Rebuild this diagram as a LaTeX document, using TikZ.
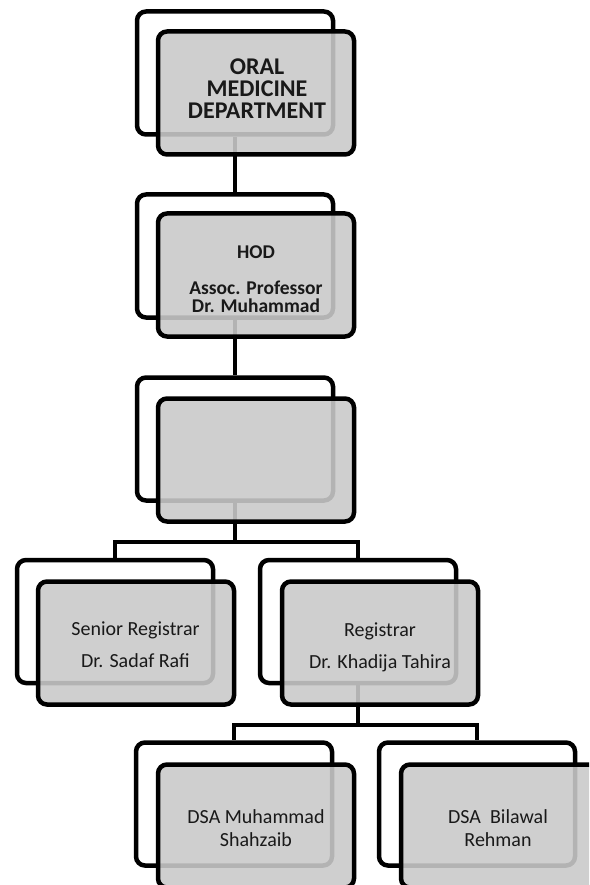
\documentclass[tikz,border=0pt]{standalone}
\usepackage{fontspec}
\setmainfont{Carlito}
\definecolor{BoxGray}{RGB}{202,202,202}

\begin{document}
\begin{tikzpicture}[x=1pt,y=-1pt]
	\tikzstyle{backbox}=[draw, line width=4.5pt, rounded corners=9pt, fill=white, minimum width=196pt, minimum height=123pt, inner sep=0pt]
	\tikzstyle{frontbox}=[backbox, fill=BoxGray, fill opacity=0.89]
	\tikzstyle{conn}=[line width=3.8pt]
	\tikzstyle{boxtext}=[align=center, inner sep=0pt, text=black!90]
	\clip (0,0) rectangle (589,885);
	\fill [white] (0,0) rectangle (589,885);
	% back boxes
	\node [backbox] (b1) at (235, 73) {};
	\node [backbox] (b2) at (235, 256) {};
	\node [backbox] (b3) at (235, 439) {};
	\node [backbox] (b4l) at (115, 621.5) {};
	\node [backbox] (b4r) at (358, 621.5) {};
	\node [backbox] (b5l) at (234, 804) {};
	\node [backbox] (b5r) at (477, 804) {};
	% connectors
	\coordinate (j3) at (235, 542);
	\coordinate (j4) at (358, 725);
	\draw [conn] (b1.south) -- (b2.north);
	\draw [conn] (b2.south) -- (b3.north);
	\draw [conn] (b3.south) -- (j3);
	\draw [conn] (j3) -| (b4l.north);
	\draw [conn] (j3) -| (b4r.north);
	\draw [conn] (b4r.south) -- (j4);
	\draw [conn] (j4) -| (b5l.north);
	\draw [conn] (j4) -| (b5r.north);
	% front boxes
	\node [frontbox] (f1) at (256, 93) {};
	\node [frontbox] (f2) at (256, 275) {};
	\node [frontbox] (f3) at (256, 460) {};
	\node [frontbox] (f4l) at (136, 643) {};
	\node [frontbox] (f4r) at (380, 643) {};
	\node [frontbox] (f5l) at (256, 826) {};
	\node [frontbox] (f5r) at (499, 826) {};
	% texts
	\node [boxtext, font=\fontsize{24}{22}\selectfont\bfseries] (t1) at (257, 88.8) {ORAL\\MEDICINE\\DEPARTMENT};
	\node [boxtext, font=\fontsize{19.5}{17.6}\selectfont\bfseries] (t2) at (256, 279) {HOD\\[18.4pt]Assoc. Professor\\Dr. Muhammad};
	\node [boxtext, font=\fontsize{20}{24}\selectfont] (t4l) at (135.5, 645) {Senior Registrar\\[8pt]Dr. Sadaf Rafi};
	\node [boxtext, font=\fontsize{20}{24}\selectfont] (t4r) at (380, 647) {Registrar\\[8pt]Dr. Khadija Tahira};
	\node [boxtext, font=\fontsize{20}{23}\selectfont] (t5l) at (256, 828) {DSA Muhammad\\Shahzaib};
	\node [boxtext, font=\fontsize{20}{23}\selectfont] (t5r) at (498, 828) {DSA\ \ Bilawal\\Rehman};
\end{tikzpicture}
\end{document}
